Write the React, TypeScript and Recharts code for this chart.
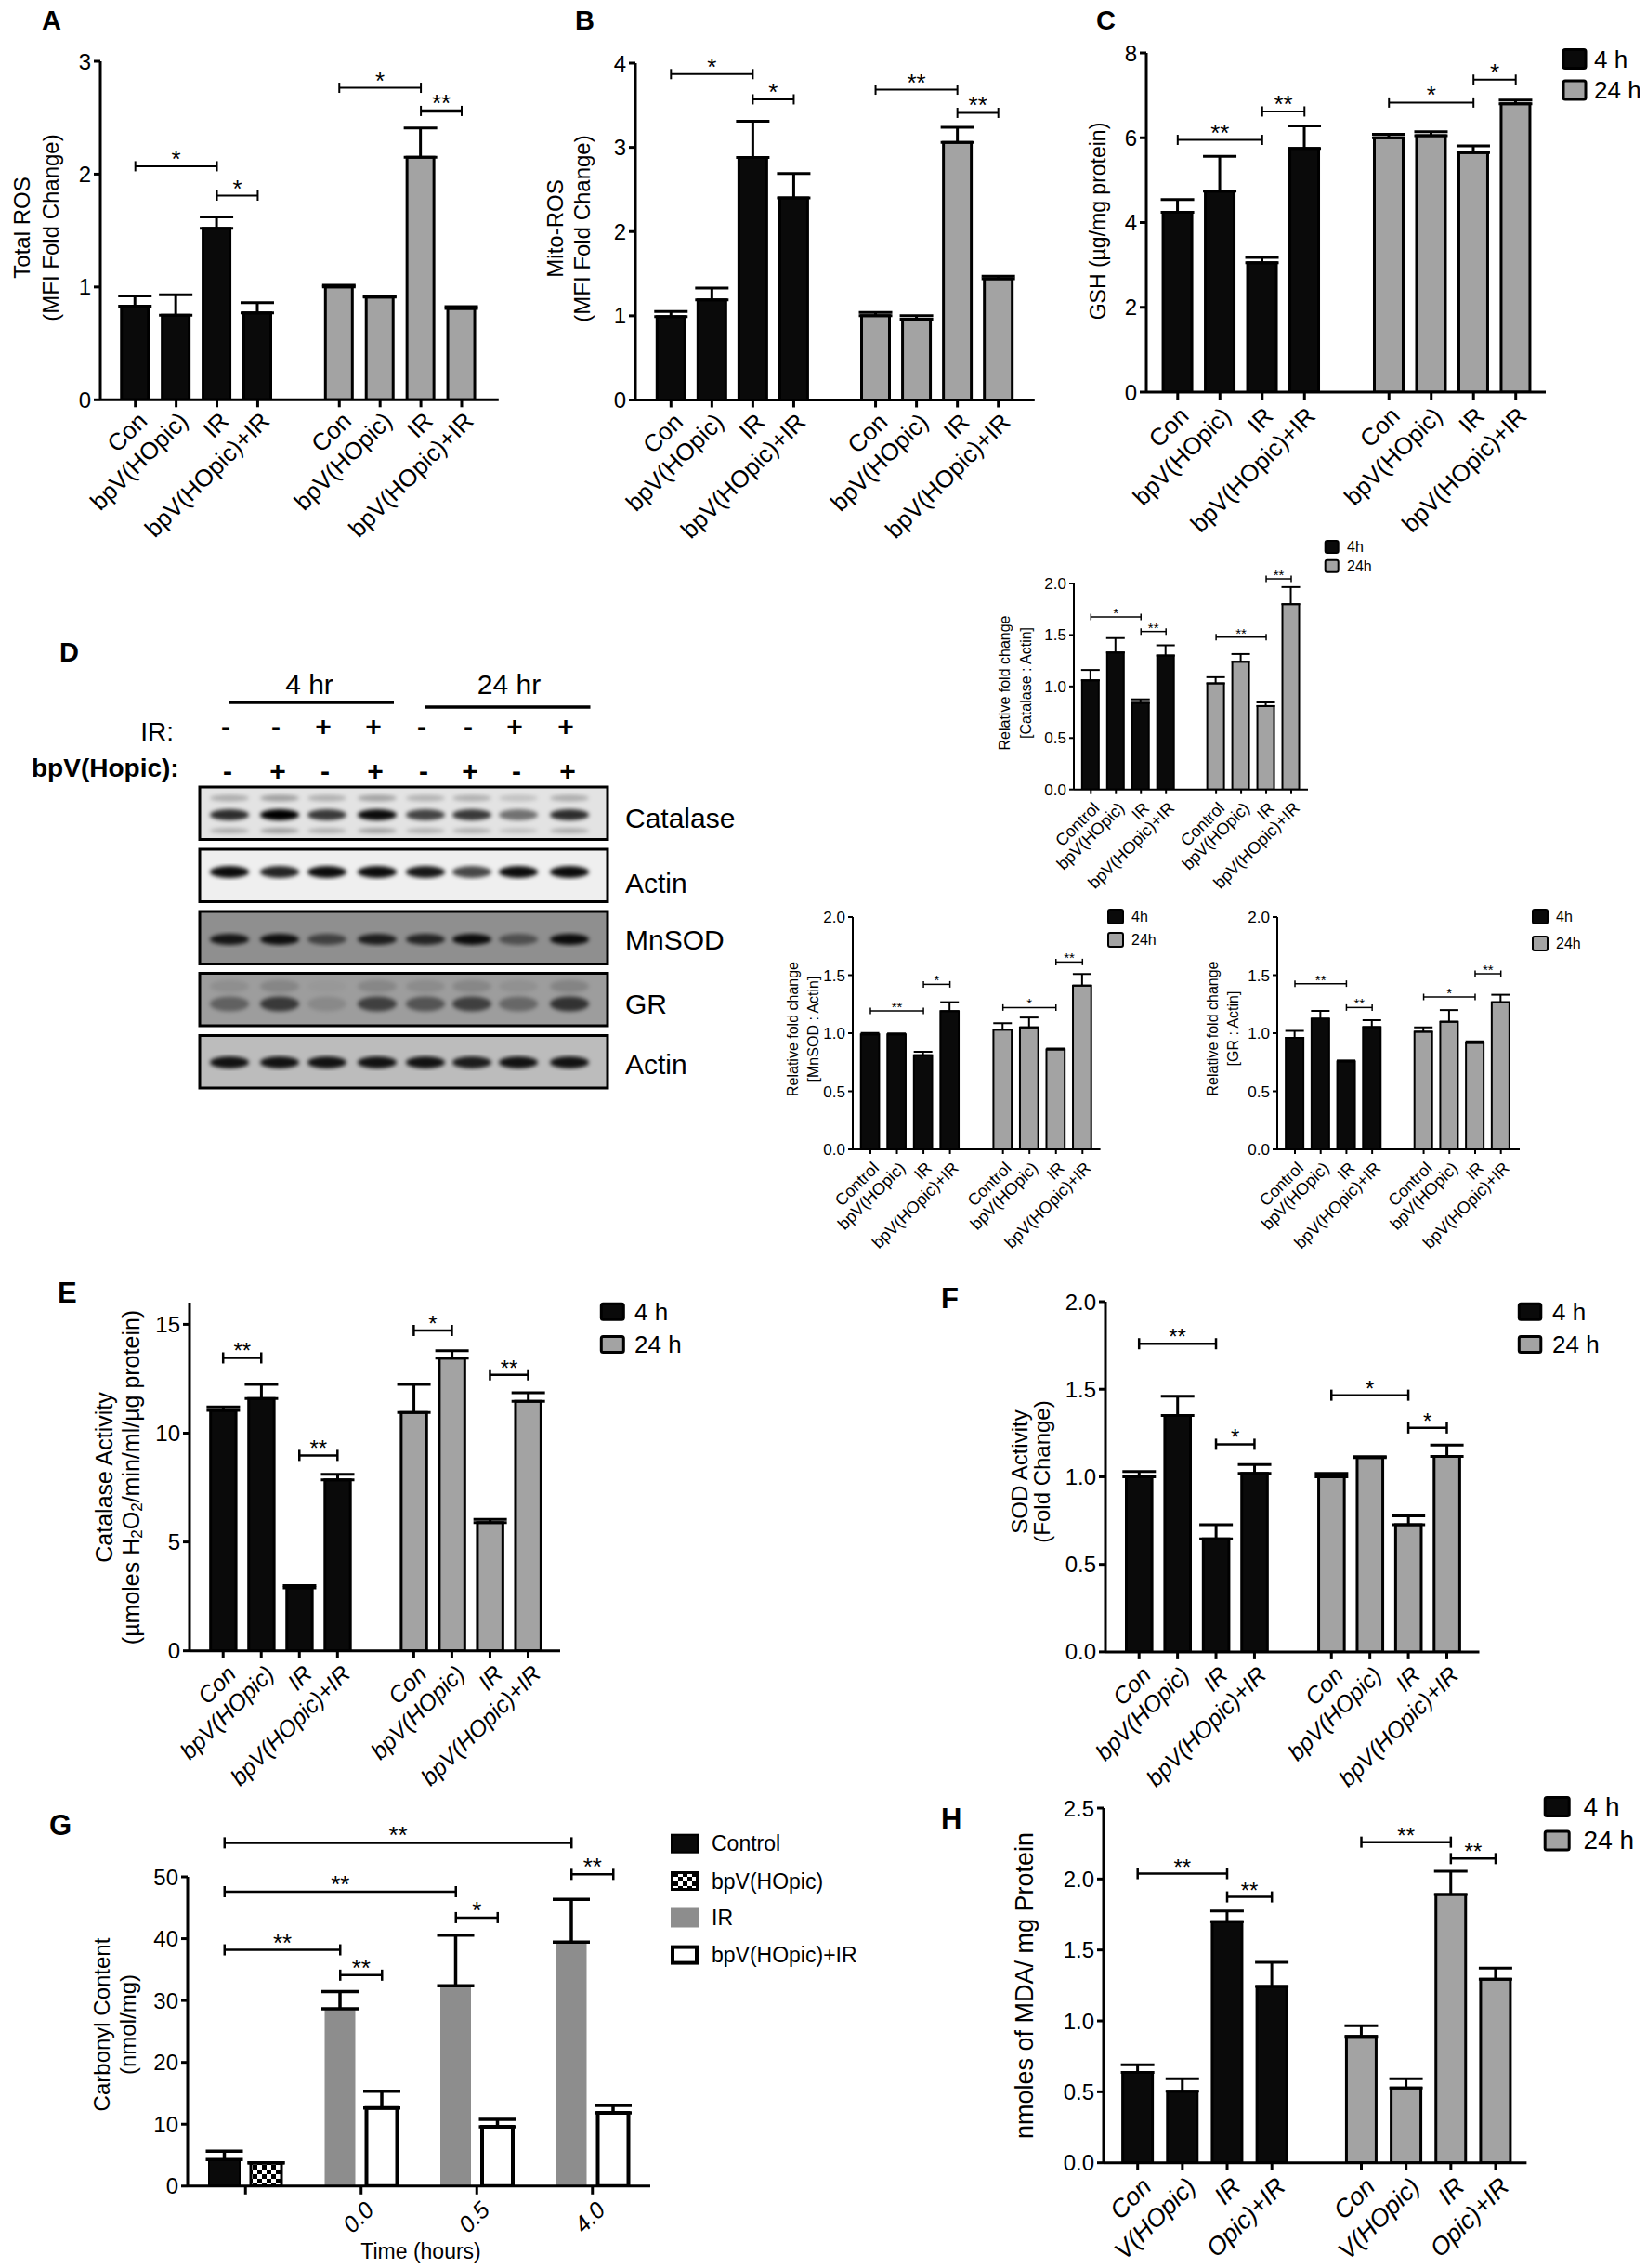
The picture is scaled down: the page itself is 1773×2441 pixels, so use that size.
import React from "react";
import { BarChart, Bar, XAxis, YAxis, ErrorBar, Cell, ReferenceLine } from "recharts";

const FF = "'Liberation Sans', Arial, Helvetica, sans-serif";
const BLACK = "#0a0a0a";
const GRAY = "#a3a3a3";
const IR_GRAY = "#8d8d8d";

// ---------- labels ----------
const groupLabels = ["Con", "bpV(HOpic)", "IR", "bpV(HOpic)+IR"];
const blotGroupLabels = ["Control", "bpV(HOpic)", "IR", "bpV(HOpic)+IR"];
const mdaLabels = ["Con", "V(HOpic)", "IR", "Opic)+IR"];
const timeLabels = ["", "0.0", "0.5", "4.0"];
const timeLegend = ["4 h", "24 h"];
const timeLegendShort = ["4h", "24h"];
const carbonylLegend = ["Control", "bpV(HOpic)", "IR", "bpV(HOpic)+IR"];

// significance: [fromBar, toBar, y, stars]
type Sig = [number, number, number, string];

// ---------- A: total ROS ----------
const totalRos4h = [0.83, 0.75, 1.52, 0.77];
const totalRos4hErr = [0.09, 0.18, 0.1, 0.09];
const totalRos24h = [1.0, 0.91, 2.15, 0.81];
const totalRos24hErr = [0.015, 0.005, 0.26, 0.015];
const totalRosSig: Sig[] = [[0, 2, 2.07, "*"], [2, 3, 1.81, "*"], [4, 6, 2.765, "*"], [6, 7, 2.56, "**"]];

// ---------- B: mito ROS ----------
const mitoRos4h = [0.99, 1.19, 2.88, 2.4];
const mitoRos4hErr = [0.06, 0.14, 0.43, 0.29];
const mitoRos24h = [1.0, 0.96, 3.06, 1.44];
const mitoRos24hErr = [0.04, 0.04, 0.18, 0.03];
const mitoRosSig: Sig[] = [[0, 2, 3.87, "*"], [2, 3, 3.57, "*"], [4, 6, 3.685, "**"], [6, 7, 3.41, "**"]];

// ---------- C: GSH ----------
const gsh4h = [4.24, 4.74, 3.05, 5.75];
const gsh4hErr = [0.3, 0.82, 0.13, 0.53];
const gsh24h = [6.0, 6.05, 5.65, 6.8];
const gsh24hErr = [0.08, 0.09, 0.16, 0.09];
const gshSig: Sig[] = [[0, 2, 5.95, "**"], [2, 3, 6.62, "**"], [4, 6, 6.83, "*"], [6, 7, 7.37, "*"]];

// ---------- D: blot quantification ----------
const catalase4h = [1.06, 1.33, 0.84, 1.3];
const catalase4hErr = [0.1, 0.14, 0.035, 0.1];
const catalase24h = [1.03, 1.24, 0.81, 1.8];
const catalase24hErr = [0.06, 0.075, 0.035, 0.165];
const catalaseSig: Sig[] = [[0, 2, 1.675, "*"], [2, 3, 1.534, "**"], [4, 6, 1.48, "**"], [6, 7, 2.045, "**"]];

const mnsod4h = [0.99, 0.99, 0.81, 1.19];
const mnsod4hErr = [0.012, 0.008, 0.03, 0.077];
const mnsod24h = [1.03, 1.05, 0.86, 1.41];
const mnsod24hErr = [0.056, 0.085, 0.008, 0.1];
const mnsodSig: Sig[] = [[0, 2, 1.192, "**"], [2, 3, 1.421, "*"], [4, 6, 1.221, "*"], [6, 7, 1.613, "**"]];

const gr4h = [0.96, 1.125, 0.757, 1.053];
const gr4hErr = [0.06, 0.067, 0.008, 0.059];
const gr24h = [1.013, 1.099, 0.917, 1.267];
const gr24hErr = [0.037, 0.1, 0.013, 0.064];
const grSig: Sig[] = [[0, 2, 1.427, "**"], [2, 3, 1.221, "**"], [4, 6, 1.312, "*"], [6, 7, 1.512, "**"]];

// western blot band intensity per lane (0..1)
const blotIR = ["-", "-", "+", "+", "-", "-", "+", "+"];
const blotBpv = ["-", "+", "-", "+", "-", "+", "-", "+"];
const catalaseBands = [0.8, 1.0, 0.75, 0.95, 0.7, 0.75, 0.5, 0.8];
const actinBands = [0.95, 0.85, 0.95, 0.95, 0.9, 0.7, 0.95, 0.95];
const mnsodBands = [0.85, 0.9, 0.55, 0.8, 0.75, 0.92, 0.45, 0.92];
const grBands = [0.45, 0.75, 0.15, 0.7, 0.55, 0.7, 0.4, 0.8];
const actin2Bands = [0.9, 0.9, 0.9, 0.9, 0.9, 0.85, 0.9, 0.9];

// ---------- E: catalase activity ----------
const catAct4h = [11.05, 11.59, 2.89, 7.85];
const catAct4hErr = [0.16, 0.65, 0.11, 0.26];
const catAct24h = [10.95, 13.45, 5.89, 11.46];
const catAct24hErr = [1.29, 0.34, 0.15, 0.4];
const catActSig: Sig[] = [[0, 1, 13.46, "**"], [2, 3, 8.98, "**"], [4, 5, 14.72, "*"], [6, 7, 12.68, "**"]];

// ---------- F: SOD activity ----------
const sod4h = [1.0, 1.35, 0.646, 1.02];
const sod4hErr = [0.03, 0.11, 0.08, 0.05];
const sod24h = [1.0, 1.11, 0.727, 1.117];
const sod24hErr = [0.02, 0.005, 0.05, 0.065];
const sodSig: Sig[] = [[0, 2, 1.76, "**"], [2, 3, 1.186, "*"], [4, 6, 1.466, "*"], [6, 7, 1.279, "*"]];

// ---------- G: carbonyl content ----------
const carbonylControl = [4.3];
const carbonylControlErr = [1.35];
const carbonylBpv = [3.76];
const carbonylBpvErr = [0];
const carbonylIR = [28.66, 32.37, 39.46];
const carbonylIRErr = [2.8, 8.2, 6.9];
const carbonylBpvIR = [12.63, 9.57, 11.83];
const carbonylBpvIRErr = [2.7, 1.2, 1.2];
// [fromCategory, fromSide, toCategory, toSide, y, stars]; side 0 = left bar, 1 = right bar
const carbonylSig: [number, number, number, number, number, string][] = [
  [0, 0, 3, 0, 55.5, "**"],
  [0, 0, 2, 0, 47.6, "**"],
  [0, 0, 1, 0, 38.2, "**"],
  [1, 0, 1, 1, 34.1, "**"],
  [2, 0, 2, 1, 43.4, "*"],
  [3, 0, 3, 1, 50.4, "**"],
];

// ---------- H: MDA ----------
const mda4h = [0.637, 0.504, 1.699, 1.242];
const mda4hErr = [0.054, 0.089, 0.075, 0.171];
const mda24h = [0.89, 0.527, 1.891, 1.293];
const mda24hErr = [0.075, 0.066, 0.164, 0.078];
const mdaSig: Sig[] = [[0, 2, 2.038, "**"], [2, 3, 1.874, "**"], [4, 6, 2.26, "**"], [6, 7, 2.144, "**"]];

// ---------- layout ----------
interface Lay {
  x0: number; yTop: number; yZero: number; xEnd: number; c0: number; cN: number;
  top: number; ticks: number[]; dec: number;
  barW: number; sw: number; capW: number; errSw: number; axisSw: number; yTick: number;
  tickFont: number; xFont: number; italic: boolean; xTickLen: number; lblDx: number; lblDy: number;
  brSw: number; brTick: number; starFont: number; thick?: number[];
}

const big = { sw: 3, capW: 18, errSw: 3, axisSw: 3, yTick: 7, tickFont: 24, xFont: 26, italic: false, xTickLen: 8, brSw: 2, brTick: 11, starFont: 26 };
const small = { sw: 2, capW: 10, errSw: 2, axisSw: 2, yTick: 5, tickFont: 17, xFont: 18, italic: false, xTickLen: 5, lblDx: 6, lblDy: 17, brSw: 1.5, brTick: 7, starFont: 15 };
const lower = { sw: 3, capW: 18, errSw: 3, axisSw: 3, yTick: 7, tickFont: 24, xFont: 25, italic: true, xTickLen: 8, brSw: 2.5, brTick: 12, starFont: 24 };

const layA: Lay = { ...big, x0: 107.7, yTop: 66.1, yZero: 430.4, xEnd: 536.5, c0: 145.4, cN: 496.7, top: 3, ticks: [0, 1, 2, 3], dec: 0, barW: 32, lblDx: 8, lblDy: 18, thick: [3] };
const layB: Lay = { ...big, x0: 684.1, yTop: 67.9, yZero: 430.4, xEnd: 1113.9, c0: 722.4, cN: 1074.8, top: 4, ticks: [0, 1, 2, 3, 4], dec: 0, barW: 33, lblDx: 8, lblDy: 19 };
const layC: Lay = { ...big, x0: 1233.5, yTop: 57.1, yZero: 422.1, xEnd: 1663.5, c0: 1267.3, cN: 1631.2, top: 8, ticks: [0, 2, 4, 6, 8], dec: 0, barW: 34, lblDx: 7, lblDy: 21 };
const layDcat: Lay = { ...small, x0: 1156, yTop: 628.3, yZero: 850, xEnd: 1408, c0: 1174.3, cN: 1390, top: 2, ticks: [0, 0.5, 1, 1.5, 2], dec: 1, barW: 20 };
const layDmn: Lay = { ...small, x0: 917.7, yTop: 986.7, yZero: 1236.7, xEnd: 1184.3, c0: 936.7, cN: 1165, top: 2, ticks: [0, 0.5, 1, 1.5, 2], dec: 1, barW: 21.7 };
const layDgr: Lay = { ...small, x0: 1375, yTop: 986.7, yZero: 1236.7, xEnd: 1636, c0: 1394, cN: 1615.7, top: 2, ticks: [0, 0.5, 1, 1.5, 2], dec: 1, barW: 21 };
const layE: Lay = { ...lower, x0: 203.8, yTop: 1401.7, yZero: 1776.4, xEnd: 602.8, c0: 240, cN: 568.3, top: 16, ticks: [0, 5, 10, 15], dec: 0, barW: 30.4, lblDx: 9, lblDy: 20 };
const layF: Lay = { ...lower, x0: 1189.5, yTop: 1400.6, yZero: 1777.5, xEnd: 1592, c0: 1225.7, cN: 1557, top: 2, ticks: [0, 0.5, 1, 1.5, 2], dec: 1, barW: 30.6, lblDx: 8, lblDy: 20 };
const layH: Lay = { ...lower, x0: 1187.9, yTop: 1945.5, yZero: 2327.2, xEnd: 1643.3, c0: 1224.6, cN: 1609.9, top: 2.5, ticks: [0, 0.5, 1, 1.5, 2, 2.5], dec: 1, barW: 35, xFont: 27, lblDx: 10, lblDy: 21, brSw: 2.5 };

const YW = 70;
const MT = 90;
const XH = 200;
const MR = 20;

function rows8(labels: string[], v4: number[], e4: number[], v24: number[], e24: number[]) {
  const r: any[] = [];
  labels.forEach((l, i) => r.push({ key: `4|${l}`, group: "4h", value: v4[i], err: [0, e4[i]] }));
  r.push({ key: "gap", group: "", value: null, err: null });
  labels.forEach((l, i) => r.push({ key: `24|${l}`, group: "24h", value: v24[i], err: [0, e24[i]] }));
  return r;
}

function sigShape(label: string, brSw: number, brTick: number, starFont: number, thick: boolean, dx1 = 0, dx2 = 0) {
  return (p: any) => {
    const x1 = Number(p.x1) + dx1;
    const x2 = Number(p.x2) + dx2;
    const y = Number(p.y1);
    const t = brTick / 2;
    return (
      <g>
        <line x1={x1} y1={y} x2={x2} y2={y} stroke="#000" strokeWidth={thick ? brSw * 1.8 : brSw} />
        <line x1={x1} y1={y - t} x2={x1} y2={y + t} stroke="#000" strokeWidth={brSw} />
        <line x1={x2} y1={y - t} x2={x2} y2={y + t} stroke="#000" strokeWidth={brSw} />
        <text x={(x1 + x2) / 2} y={y + 1} textAnchor="middle" fontSize={starFont} fontFamily={FF} fill="#000">
          {label}
        </text>
      </g>
    );
  };
}

function makeTick(font: number, italic: boolean, len: number, sw: number, dx: number, dy: number, labelOf: (v: string) => string | null) {
  return (p: any) => {
    const v = String(p.payload && p.payload.value != null ? p.payload.value : "");
    const label = labelOf(v);
    if (label === null) return <g />;
    const x = Number(p.x);
    const y = Number(p.y);
    return (
      <g>
        <line x1={x} x2={x} y1={y} y2={y + len} stroke="#000" strokeWidth={sw} />
        {label ? (
          <text
            transform={`translate(${x + dx},${y + dy}) rotate(-45)`}
            textAnchor="end"
            dominantBaseline="central"
            fontSize={font}
            fontStyle={italic ? "italic" : "normal"}
            fontFamily={FF}
            fill="#000"
          >
            {label}
          </text>
        ) : null}
      </g>
    );
  };
}

function Panel8(props: { lay: Lay; labels: string[]; v4: number[]; e4: number[]; v24: number[]; e24: number[]; sig: Sig[] }) {
  const { lay, labels, v4, e4, v24, e24, sig } = props;
  const data = rows8(labels, v4, e4, v24, e24);
  const band = (lay.cN - lay.c0) / 8;
  const padL = lay.c0 - lay.x0 - band / 2;
  const padR = Math.max(0, lay.xEnd - lay.x0 - padL - 9 * band);
  const width = YW + (lay.xEnd - lay.x0) + MR;
  const height = MT + (lay.yZero - lay.yTop) + XH;
  const keyOf = (i: number) => data[i < 4 ? i : i + 1].key;
  const tick = makeTick(lay.xFont, lay.italic, lay.xTickLen, lay.axisSw, lay.lblDx, lay.lblDy, (v) =>
    v === "gap" ? null : v.split("|")[1]
  );
  return (
    <div style={{ position: "absolute", left: lay.x0 - YW, top: lay.yTop - MT }}>
      <BarChart width={width} height={height} data={data} margin={{ top: MT, right: MR, bottom: 0, left: 0 }}>
        <XAxis
          dataKey="key"
          type="category"
          interval={0}
          height={XH}
          padding={{ left: padL, right: padR }}
          tickSize={0}
          tickMargin={0}
          tickLine={false}
          axisLine={{ stroke: "#000", strokeWidth: lay.axisSw }}
          tick={tick}
        />
        <YAxis
          type="number"
          domain={[0, lay.top]}
          ticks={lay.ticks}
          allowDataOverflow
          width={YW}
          tickSize={lay.yTick}
          tickMargin={3}
          axisLine={{ stroke: "#000", strokeWidth: lay.axisSw }}
          tickLine={{ stroke: "#000", strokeWidth: lay.axisSw }}
          tick={{ fontSize: lay.tickFont, fill: "#000", fontFamily: FF }}
          tickFormatter={(v: number) => (lay.dec ? v.toFixed(lay.dec) : String(v))}
        />
        <Bar dataKey="value" barSize={lay.barW - lay.sw} stroke="#000" strokeWidth={lay.sw} isAnimationActive={false}>
          {data.map((r, i) => (
            <Cell key={i} fill={r.group === "4h" ? BLACK : GRAY} />
          ))}
          <ErrorBar dataKey="err" width={lay.capW} strokeWidth={lay.errSw} stroke="#000" direction="y" isAnimationActive={false} />
        </Bar>
        {sig.map((s, i) => (
          <ReferenceLine
            key={i}
            ifOverflow="visible"
            segment={[{ x: keyOf(s[0]), y: s[2] }, { x: keyOf(s[1]), y: s[2] }]}
            shape={sigShape(s[3], lay.brSw, lay.brTick, lay.starFont, !!(lay.thick && lay.thick.includes(i)))}
          />
        ))}
      </BarChart>
    </div>
  );
}

function CarbonylPanel() {
  const x0 = 202, yTop = 2019.5, yZero = 2352.3, xEnd = 700;
  const barSize = 33, barGap = 12;
  const off = (barSize + barGap) / 2;
  const data = timeLabels.map((t, i) => ({
    key: t || "baseline",
    left: i === 0 ? carbonylControl[0] : carbonylIR[i - 1],
    leftErr: [0, i === 0 ? carbonylControlErr[0] : carbonylIRErr[i - 1]],
    right: i === 0 ? carbonylBpv[0] : carbonylBpvIR[i - 1],
    rightErr: [0, i === 0 ? carbonylBpvErr[0] : carbonylBpvIRErr[i - 1]],
  }));
  const width = YW + (xEnd - x0) + MR;
  const height = MT + (yZero - yTop) + XH;
  const tick = makeTick(25, true, 9, 3, 9, 21, (v) => (v === "baseline" ? "" : v));
  return (
    <div style={{ position: "absolute", left: x0 - YW, top: yTop - MT }}>
      <BarChart width={width} height={height} data={data} barGap={barGap} margin={{ top: MT, right: MR, bottom: 0, left: 0 }}>
        <XAxis
          dataKey="key"
          type="category"
          interval={0}
          height={XH}
          tickSize={0}
          tickMargin={0}
          tickLine={false}
          axisLine={{ stroke: "#000", strokeWidth: 3 }}
          tick={tick}
        />
        <YAxis
          type="number"
          domain={[0, 50]}
          ticks={[0, 10, 20, 30, 40, 50]}
          allowDataOverflow
          width={YW}
          tickSize={7}
          tickMargin={3}
          axisLine={{ stroke: "#000", strokeWidth: 3 }}
          tickLine={{ stroke: "#000", strokeWidth: 3 }}
          tick={{ fontSize: 24, fill: "#000", fontFamily: FF }}
        />
        <Bar dataKey="left" barSize={barSize} isAnimationActive={false}>
          {data.map((_, i) => (
            <Cell key={i} fill={i === 0 ? BLACK : IR_GRAY} stroke={i === 0 ? "#000" : "none"} strokeWidth={i === 0 ? 2 : 0} />
          ))}
          <ErrorBar dataKey="leftErr" width={20} strokeWidth={3.5} stroke="#000" direction="y" isAnimationActive={false} />
        </Bar>
        <Bar dataKey="right" barSize={barSize} isAnimationActive={false}>
          {data.map((_, i) => (
            <Cell key={i} fill={i === 0 ? "url(#checker)" : "#fff"} stroke="#000" strokeWidth={i === 0 ? 3 : 4} />
          ))}
          <ErrorBar dataKey="rightErr" width={20} strokeWidth={3.5} stroke="#000" direction="y" isAnimationActive={false} />
        </Bar>
        {carbonylSig.map((s, i) => (
          <ReferenceLine
            key={i}
            ifOverflow="visible"
            segment={[{ x: data[s[0]].key, y: s[4] }, { x: data[s[2]].key, y: s[4] }]}
            shape={sigShape(s[5], 2.5, 12, 26, false, s[1] ? off : -off, s[3] ? off : -off)}
          />
        ))}
      </BarChart>
    </div>
  );
}

// ---------- overlay text / legends / blot ----------
const T = (p: any) => <text fontFamily={FF} fill="#000" {...p} />;

function VTitle({ cx, cy, lines, size, gap }: { cx: number; cy: number; lines: React.ReactNode[]; size: number; gap: number }) {
  const n = lines.length;
  return (
    <>
      {lines.map((l, i) => (
        <T
          key={i}
          transform={`translate(${cx + (i - (n - 1) / 2) * gap},${cy}) rotate(-90)`}
          textAnchor="middle"
          dominantBaseline="central"
          fontSize={size}
        >
          {l}
        </T>
      ))}
    </>
  );
}

function TimeLegend({ x, ys, w, h, tx, size, labels, sw = 3 }: any) {
  return (
    <>
      {labels.map((l: string, i: number) => (
        <g key={i}>
          <rect x={x + sw / 2} y={ys[i] + sw / 2} width={w - sw} height={h - sw} rx={2} fill={i === 0 ? BLACK : GRAY} stroke="#000" strokeWidth={sw} />
          <T x={tx} y={ys[i] + h / 2} dominantBaseline="central" fontSize={size}>
            {l}
          </T>
        </g>
      ))}
    </>
  );
}

const laneX = [247, 301, 352, 406, 458, 508, 558, 613];

function Blot() {
  const boxes = [
    { name: "Catalase", top: 847, bg: "#e3e3e3", labelY: 880, bands: [{ dy: 30, h: 12, k: 1, arr: catalaseBands }, { dy: 12, h: 7, k: 0.3, arr: catalaseBands }, { dy: 47, h: 6, k: 0.3, arr: catalaseBands }] },
    { name: "Actin", top: 914, bg: "#efefef", labelY: 950, bands: [{ dy: 24.5, h: 13, k: 1, arr: actinBands }] },
    { name: "MnSOD", top: 981, bg: "#8f8f8f", labelY: 1011, bands: [{ dy: 30, h: 12, k: 1, arr: mnsodBands }] },
    { name: "GR", top: 1047.5, bg: "#9d9d9d", labelY: 1080, bands: [{ dy: 33, h: 16, k: 0.85, arr: grBands }, { dy: 14, h: 14, k: 0.2, arr: grBands }] },
    { name: "Actin", top: 1114.5, bg: "#bcbcbc", labelY: 1145, bands: [{ dy: 29, h: 13, k: 1, arr: actin2Bands }] },
  ];
  const left = 215, w = 439, h = 56.5;
  return (
    <g>
      {boxes.map((b, bi) => (
        <g key={bi}>
          <clipPath id={`blotclip${bi}`}>
            <rect x={left} y={b.top} width={w} height={h} />
          </clipPath>
          <rect x={left} y={b.top} width={w} height={h} fill={b.bg} />
          <g clipPath={`url(#blotclip${bi})`} filter="url(#bandBlur)">
            {b.bands.map((bd, j) =>
              bd.arr.map((v, li) => (
                <ellipse key={`${j}-${li}`} cx={laneX[li]} cy={b.top + bd.dy} rx={21} ry={bd.h / 2} fill="#000" opacity={Math.min(1, v * bd.k)} />
              ))
            )}
          </g>
          <rect x={left} y={b.top} width={w} height={h} fill="none" stroke="#000" strokeWidth={3} />
          <T x={673} y={b.labelY} dominantBaseline="central" fontSize={30}>
            {b.name}
          </T>
        </g>
      ))}
      <T x={333} y={747} textAnchor="middle" fontSize={30}>4 hr</T>
      <T x={548} y={747} textAnchor="middle" fontSize={30}>24 hr</T>
      <line x1={246.5} x2={424} y1={756} y2={756} stroke="#000" strokeWidth={3.5} />
      <line x1={458} x2={635.5} y1={761} y2={761} stroke="#000" strokeWidth={3.5} />
      <T x={187} y={797} textAnchor="end" fontSize={28}>IR:</T>
      <T x={34} y={836} fontSize={28} fontWeight="bold">bpV(Hopic):</T>
      {blotIR.map((s, i) => (
        <T key={`ir${i}`} x={laneX[i] - 4} y={781} textAnchor="middle" dominantBaseline="central" fontSize={30} fontWeight="bold">{s}</T>
      ))}
      {blotBpv.map((s, i) => (
        <T key={`bp${i}`} x={laneX[i] - 2} y={829} textAnchor="middle" dominantBaseline="central" fontSize={30} fontWeight="bold">{s}</T>
      ))}
    </g>
  );
}

function Overlay() {
  return (
    <svg width={1773} height={2441} style={{ position: "absolute", left: 0, top: 0, pointerEvents: "none" }}>
      <defs>
        <pattern id="checker" width="10" height="10" patternUnits="userSpaceOnUse">
          <rect width="10" height="10" fill="#fff" />
          <rect width="5" height="5" fill="#000" />
          <rect x="5" y="5" width="5" height="5" fill="#000" />
        </pattern>
        <filter id="bandBlur" x="-20%" y="-20%" width="140%" height="140%">
          <feGaussianBlur stdDeviation="2.2" />
        </filter>
      </defs>

      {/* panel letters */}
      <T x={45} y={32} fontSize={29} fontWeight="bold">A</T>
      <T x={619} y={32} fontSize={29} fontWeight="bold">B</T>
      <T x={1180} y={32} fontSize={29} fontWeight="bold">C</T>
      <T x={64} y={712} fontSize={29} fontWeight="bold">D</T>
      <T x={62} y={1402} fontSize={31} fontWeight="bold">E</T>
      <T x={1013} y={1408} fontSize={31} fontWeight="bold">F</T>
      <T x={53} y={1975} fontSize={31} fontWeight="bold">G</T>
      <T x={1013} y={1968} fontSize={31} fontWeight="bold">H</T>

      {/* y-axis titles */}
      <VTitle cx={38.5} cy={245} lines={["Total ROS", "(MFI Fold Change)"]} size={24} gap={31} />
      <VTitle cx={611.6} cy={246} lines={["Mito-ROS", "(MFI Fold Change)"]} size={24} gap={29} />
      <VTitle cx={1181.5} cy={238} lines={["GSH (µg/mg protein)"]} size={23} gap={0} />
      <VTitle cx={1093.3} cy={735} lines={["Relative fold change", "[Catalase : Actin]"]} size={16} gap={23} />
      <VTitle cx={864} cy={1107.5} lines={["Relative fold change", "[MnSOD : Actin]"]} size={16} gap={22} />
      <VTitle cx={1316} cy={1107} lines={["Relative fold change", "[GR : Actin]"]} size={16} gap={22} />
      <VTitle
        cx={126.3}
        cy={1590}
        lines={[
          "Catalase Activity",
          <>
            (µmoles H<tspan dy="6" fontSize="17">2</tspan>
            <tspan dy="-6">O</tspan>
            <tspan dy="6" fontSize="17">2</tspan>
            <tspan dy="-6">/min/ml/µg protein)</tspan>
          </>,
        ]}
        size={25}
        gap={28.6}
      />
      <VTitle cx={1109} cy={1584} lines={["SOD Activity", "(Fold Change)"]} size={24} gap={24} />
      <VTitle cx={123.4} cy={2179} lines={["Carbonyl Content", "(nmol/mg)"]} size={24} gap={28.8} />
      <VTitle cx={1103} cy={2137} lines={["nmoles of MDA/ mg Protein"]} size={27} gap={0} />

      <T x={453} y={2431} textAnchor="middle" fontSize={23}>Time (hours)</T>

      {/* legends */}
      <TimeLegend x={1681.5} ys={[52, 85.5]} w={27} h={23} tx={1716} size={26} labels={timeLegend} />
      <TimeLegend x={1425.7} ys={[581, 601.7]} w={16} h={15} tx={1450} size={16} labels={timeLegendShort} sw={2} />
      <TimeLegend x={1192} ys={[978, 1003]} w={18} h={17} tx={1218} size={16} labels={timeLegendShort} sw={2} />
      <TimeLegend x={1649} ys={[978, 1007]} w={18} h={17} tx={1675} size={16} labels={timeLegendShort} sw={2} />
      <TimeLegend x={645.8} ys={[1401.7, 1437]} w={27} h={20} tx={683} size={26} labels={timeLegend} />
      <TimeLegend x={1633.8} ys={[1401.7, 1437]} w={26.5} h={20} tx={1671} size={26} labels={timeLegend} />
      <TimeLegend x={1661.7} ys={[1933, 1969.4]} w={29} h={23} tx={1704.6} size={28} labels={timeLegend} />

      {/* carbonyl legend */}
      {carbonylLegend.map((l, i) => {
        const ys = [1973.7, 2014, 2053.5, 2093.6];
        const fills = [BLACK, "url(#checker)", IR_GRAY, "#fff"];
        const strokes = ["#000", "#000", "none", "#000"];
        const sws = [2, 3, 0, 4];
        return (
          <g key={i}>
            <rect x={722 + sws[i] / 2} y={ys[i] + sws[i] / 2} width={30 - sws[i]} height={21 - sws[i]} fill={fills[i]} stroke={strokes[i]} strokeWidth={sws[i]} />
            <T x={766} y={ys[i] + 10.5} dominantBaseline="central" fontSize={23}>{l}</T>
          </g>
        );
      })}

      <Blot />
    </svg>
  );
}

export default function App() {
  return (
    <div style={{ position: "relative", width: 1773, height: 2441, overflow: "hidden", background: "#fff", fontFamily: FF }}>
      <style>{"body{margin:0} .recharts-surface{overflow:visible}"}</style>
      <Panel8 lay={layA} labels={groupLabels} v4={totalRos4h} e4={totalRos4hErr} v24={totalRos24h} e24={totalRos24hErr} sig={totalRosSig} />
      <Panel8 lay={layB} labels={groupLabels} v4={mitoRos4h} e4={mitoRos4hErr} v24={mitoRos24h} e24={mitoRos24hErr} sig={mitoRosSig} />
      <Panel8 lay={layC} labels={groupLabels} v4={gsh4h} e4={gsh4hErr} v24={gsh24h} e24={gsh24hErr} sig={gshSig} />
      <Panel8 lay={layDcat} labels={blotGroupLabels} v4={catalase4h} e4={catalase4hErr} v24={catalase24h} e24={catalase24hErr} sig={catalaseSig} />
      <Panel8 lay={layDmn} labels={blotGroupLabels} v4={mnsod4h} e4={mnsod4hErr} v24={mnsod24h} e24={mnsod24hErr} sig={mnsodSig} />
      <Panel8 lay={layDgr} labels={blotGroupLabels} v4={gr4h} e4={gr4hErr} v24={gr24h} e24={gr24hErr} sig={grSig} />
      <Panel8 lay={layE} labels={groupLabels} v4={catAct4h} e4={catAct4hErr} v24={catAct24h} e24={catAct24hErr} sig={catActSig} />
      <Panel8 lay={layF} labels={groupLabels} v4={sod4h} e4={sod4hErr} v24={sod24h} e24={sod24hErr} sig={sodSig} />
      <CarbonylPanel />
      <Panel8 lay={layH} labels={mdaLabels} v4={mda4h} e4={mda4hErr} v24={mda24h} e24={mda24hErr} sig={mdaSig} />
      <Overlay />
    </div>
  );
}
